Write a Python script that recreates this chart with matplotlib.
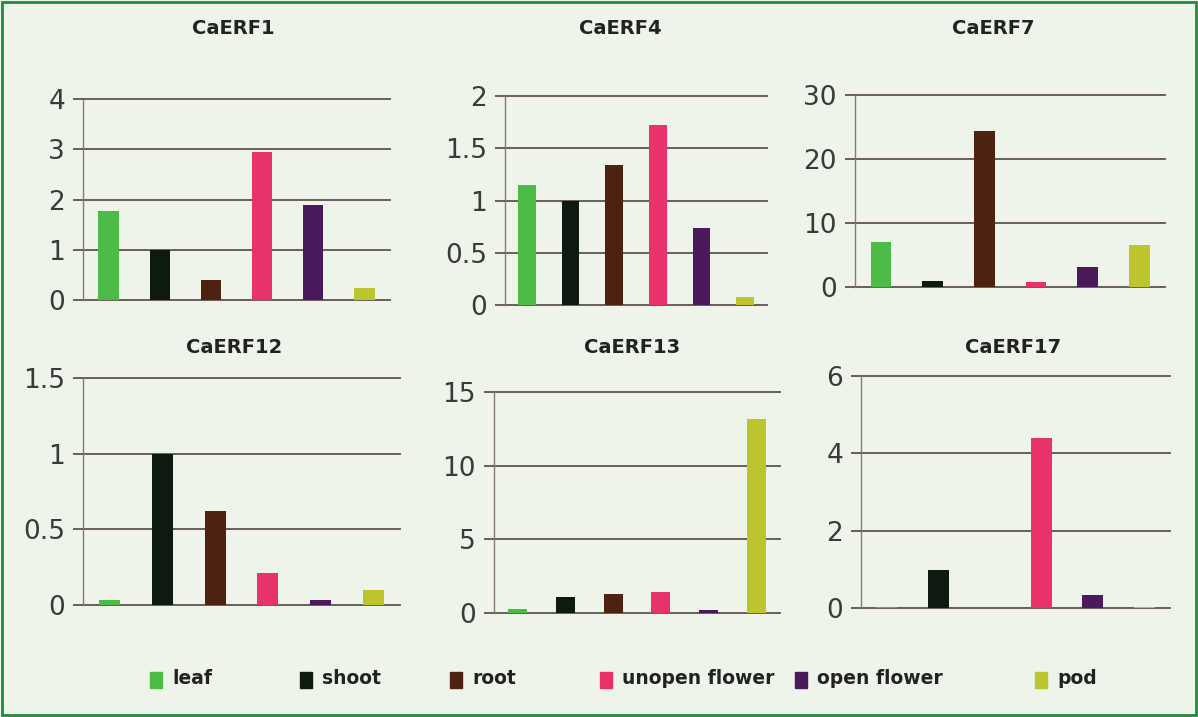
import matplotlib.pyplot as plt
from matplotlib.patches import Rectangle

plt.rcParams['font.family'] = ['DejaVu Sans']

# tissues and colours
tissues = ['leaf', 'shoot', 'root', 'unopen flower', 'open flower', 'pod']
tissueColors = ['#4cbb47', '#0e1a10', '#4e2210', '#e8336a', '#4a1a5c', '#bcc42e']

# relative expression per gene
genes = ['CaERF1', 'CaERF4', 'CaERF7', 'CaERF12', 'CaERF13', 'CaERF17']
erf1 = [1.78, 1.0, 0.4, 2.94, 1.9, 0.24]
erf4 = [1.15, 1.0, 1.34, 1.72, 0.74, 0.08]
erf7 = [7.1, 1.0, 24.4, 0.8, 3.05, 6.6]
erf12 = [0.03, 1.0, 0.62, 0.21, 0.03, 0.10]
erf13 = [0.27, 1.09, 1.32, 1.4, 0.2, 13.2]
erf17 = [0.02, 0.97, 0.0, 4.39, 0.33, 0.02]
values = [erf1, erf4, erf7, erf12, erf13, erf17]

# y ticks for each panel
yticks = [[0, 1, 2, 3, 4], [0, 0.5, 1, 1.5, 2], [0, 10, 20, 30],
          [0, 0.5, 1, 1.5], [0, 5, 10, 15], [0, 2, 4, 6]]
ytickLabels = [['0', '1', '2', '3', '4'], ['0', '0.5', '1', '1.5', '2'],
               ['0', '10', '20', '30'], ['0', '0.5', '1', '1.5'],
               ['0', '5', '10', '15'], ['0', '2', '4', '6']]

W, H = 1198, 717
fig = plt.figure(figsize=(W / 100, H / 100), dpi=100)
fig.patch.set_facecolor('#eff4ea')

# panel boxes in pixels: left, top, right, bottom
boxes = [(83, 99, 390, 300), (505, 96, 767, 305), (855, 95, 1165, 287),
         (83, 378, 400, 605), (494, 392, 780, 613), (861, 376, 1170, 608)]
titlePos = [(233, 28), (620, 28), (993, 28), (234, 348), (632, 348), (1013, 348)]

gridColor = '#5e524e'

for i in range(6):
    l, t, r, b = boxes[i]
    ax = fig.add_axes([l / W, 1 - b / H, (r - l) / W, (b - t) / H])
    ax.set_facecolor('none')
    ax.bar(range(6), values[i], width=0.4, color=tissueColors, zorder=3)
    ax.set_xlim(-0.5, 5.5)
    ax.set_ylim(0, yticks[i][-1])
    ax.set_yticks(yticks[i])
    ax.set_yticklabels(ytickLabels[i], fontsize=19, color='#3a3a3a')
    ax.set_xticks([])
    ax.tick_params(axis='y', length=7, width=1.3, color=gridColor, pad=6)
    ax.yaxis.grid(True, color=gridColor, linewidth=1.3)
    for gl in ax.get_ygridlines():
        gl.set_clip_on(False)
    for s in ['top', 'right', 'bottom']:
        ax.spines[s].set_visible(False)
    ax.spines['left'].set_color('#857874')
    ax.spines['left'].set_linewidth(1)
    fig.text(titlePos[i][0] / W, 1 - titlePos[i][1] / H, genes[i],
             ha='center', va='center', fontsize=14, fontweight='bold', color='#222222')

# legend along the bottom
legendX = [150, 300, 450, 600, 795, 1035]
for x, name, c in zip(legendX, tissues, tissueColors):
    fig.patches.append(Rectangle((x / W, 1 - 688 / H), 12 / W, 16 / H,
                                 transform=fig.transFigure, color=c))
    fig.text((x + 22) / W, 1 - 679 / H, name, ha='left', va='center',
             fontsize=13.5, fontweight='bold', color='#222222')

# green frame
fig.patches.append(Rectangle((2 / W, 2 / H), (W - 4) / W, (H - 4) / H,
                             transform=fig.transFigure, fill=False,
                             edgecolor='#1e8c3c', linewidth=2))

fig.savefig('out.png', dpi=100, facecolor=fig.get_facecolor())
